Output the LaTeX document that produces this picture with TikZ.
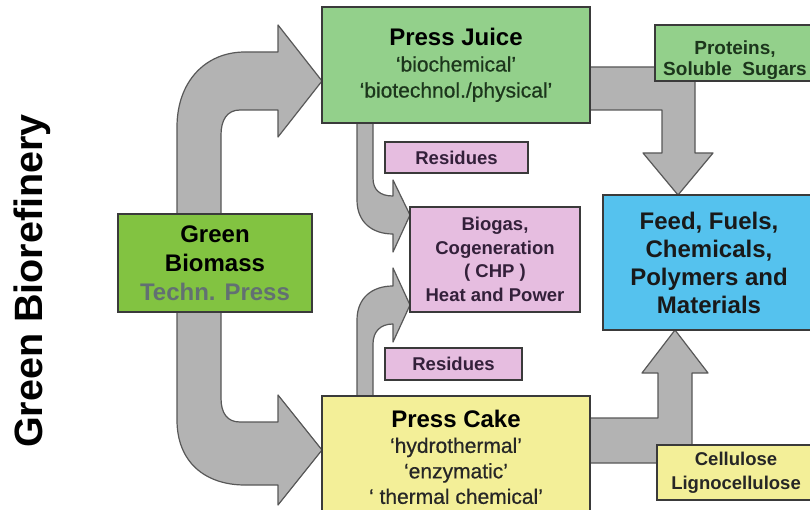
\documentclass[tikz,border=0pt]{standalone}
\usepackage{fontspec}
\setmainfont{Liberation Sans}
\newfontfamily\semibold{Liberation Sans}[FakeBold=0.6]
\definecolor{juicegreen}{HTML}{93D08B}
\definecolor{biomassgreen}{HTML}{82C341}
\definecolor{residuepink}{HTML}{E6BDE0}
\definecolor{productblue}{HTML}{55C2EE}
\definecolor{cakeyellow}{HTML}{F3EF98}
\definecolor{arrowgray}{HTML}{B3B3B3}
\definecolor{edgegray}{HTML}{3A3A3A}
\definecolor{pressgray}{HTML}{627072}
\definecolor{juicetext}{HTML}{1C361C}
\definecolor{pinktext}{HTML}{33203A}

\begin{document}
\begin{tikzpicture}[x=1pt,y=-1pt,
 box/.style={draw=edgegray,line width=1.6pt,inner sep=0pt,align=center},
 flow/.style={fill=arrowgray,draw=edgegray!85,line width=1.2pt,line join=round},
 bigtext/.style={font=\fontsize{24}{28}\selectfont\bfseries},
 smalltext/.style={font=\fontsize{18.5}{23.7}\selectfont\bfseries}]
 \fill[white] (0,0) rectangle (810,510);
 \useasboundingbox (0,0) rectangle (810,510);
 \draw[flow] (177,214) -- (177,127) .. controls (177,82) and (205,52) .. (245,52) -- (278,52) -- (278,25) -- (322,81) -- (278,137) -- (278,110) -- (240,110) .. controls (227,110) and (221,120) .. (221,135) -- (221,214) -- cycle;
 \draw[flow] (177,312) -- (177,420) .. controls (177,462) and (205,485) .. (245,485) -- (278,485) -- (278,505) -- (322,450) -- (278,395) -- (278,422) -- (240,422) .. controls (227,422) and (221,413) .. (221,398) -- (221,312) -- cycle;
 \draw[flow] (357,123) -- (357,200) .. controls (357,222) and (372,234) .. (393,234) -- (393,252) -- (410,215) -- (393,180) -- (393,196) .. controls (380,196) and (373,190) .. (373,178) -- (373,123) -- cycle;
 \draw[flow] (357,396) -- (357,320) .. controls (357,298) and (372,286) .. (393,286) -- (393,268) -- (410,305) -- (393,342) -- (393,324) .. controls (380,324) and (373,332) .. (373,344) -- (373,396) -- cycle;
 \draw[flow] (590,67) -- (695,67) -- (695,153) -- (713,153) -- (678,195) -- (643,153) -- (662,153) -- (662,110) -- (590,110) -- cycle;
 \draw[flow] (590,463) -- (692,463) -- (692,373) -- (708,373) -- (675,330) -- (642,373) -- (658,373) -- (658,418) -- (590,418) -- cycle;
 \node[rotate=90,anchor=base,font=\fontsize{39.5}{40}\selectfont\bfseries] (title) at (42,281) {Green Biorefinery};
 \node[box,bigtext,fill=biomassgreen,minimum width=194pt,minimum height=98pt,font=\fontsize{24}{29}\selectfont\bfseries] (biomass) at (215,263) {Green\\Biomass\\\textcolor{pressgray}{Techn. Press}};
 \node[box,fill=juicegreen,minimum width=268pt,minimum height=116pt,font=\fontsize{21}{26}\selectfont\semibold,text=juicetext] (juice) at (456,65) {{\fontsize{24}{26}\selectfont\normalfont\bfseries\color{black}Press Juice}\\‘biochemical’\\‘biotechnol./physical’};
 \node[box,fill=cakeyellow,minimum width=268pt,minimum height=122pt,font=\fontsize{21}{25.5}\selectfont\semibold,text=black!85] (cake) at (456,457) {{\fontsize{24}{25.5}\selectfont\normalfont\bfseries\color{black}Press Cake}\\‘hydrothermal’\\‘enzymatic’\\‘ thermal chemical’};
 \node[box,smalltext,fill=residuepink,minimum width=143pt,minimum height=31pt,text=pinktext] (resjuice) at (456.5,157.5) {Residues};
 \node[box,smalltext,fill=residuepink,minimum width=137pt,minimum height=32pt,text=pinktext] (rescake) at (453.5,364) {Residues};
 \node[box,smalltext,fill=residuepink,minimum width=170pt,minimum height=105pt,text=pinktext] (biogas) at (495,259.5) {Biogas,\\Cogeneration\\( CHP )\\Heat and Power};
 \node[box,bigtext,fill=productblue,minimum width=212pt,minimum height=135pt,text=black!90] (products) at (709,262.5) {Feed, Fuels,\\Chemicals,\\Polymers and\\Materials};
 \node[box,fill=juicegreen,minimum width=160pt,minimum height=56pt,font=\fontsize{19}{21}\selectfont\bfseries,text=juicetext] (proteins) at (735,53) {\rule{0pt}{28pt}Proteins,\\Soluble\ \ Sugars};
 \node[box,smalltext,fill=cakeyellow,minimum width=158pt,minimum height=55pt,text=black!85] (cellulose) at (736,472.5) {Cellulose\\Lignocellulose};
\end{tikzpicture}
\end{document}
